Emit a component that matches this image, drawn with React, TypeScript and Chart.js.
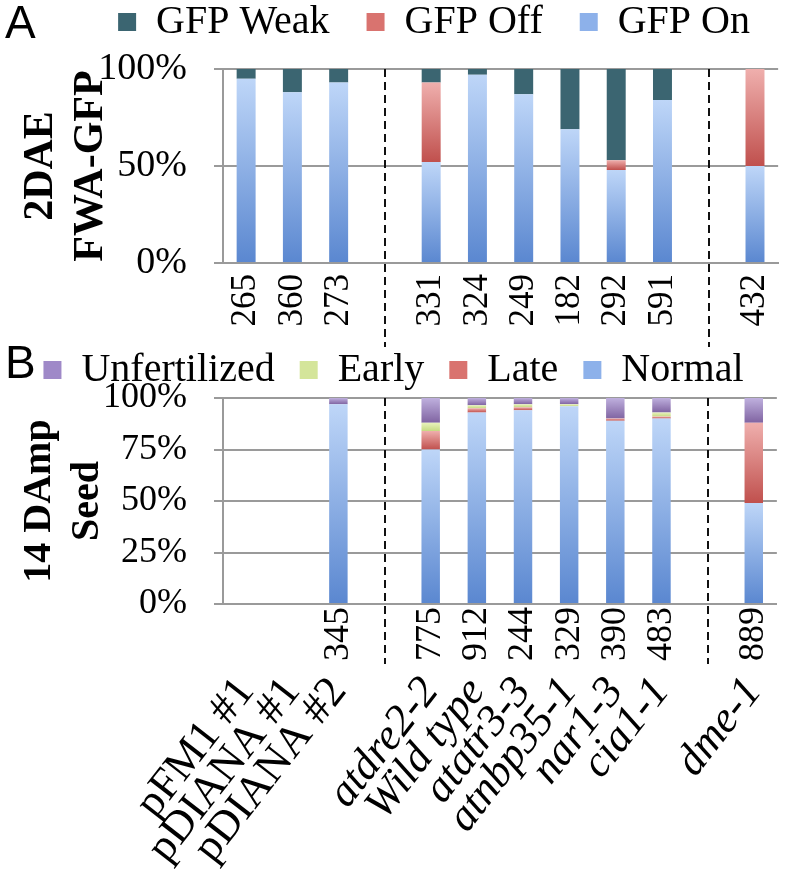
import React, { useEffect, useRef } from 'react';
import { Chart, registerables } from 'chart.js';

Chart.register(...registerables);

const SERIF = "'Liberation Serif', 'Times New Roman', serif";
const GRID = '#9a9a9a';

// ---- Panel A : 2DAE FWA-GFP ----
const COUNTS_A = ['265', '360', '273', '', '331', '324', '249', '182', '292', '591', '', '432'];
const GFP_ON = [95, 88, 93, null, 52, 97, 87, 69, 48, 84, null, 50];
const GFP_OFF = [0, 0, 0, null, 41, 0, 0, 0, 5, 0, null, 50];
const GFP_WEAK = [5, 12, 7, null, 7, 3, 13, 31, 47, 16, null, 0];
const TICKS_A = [0, 50, 100];

// ---- Panel B : 14 DAmp Seed ----
const COUNTS_B = ['', '', '345', '', '775', '912', '244', '329', '390', '483', '', '889'];
const GENOTYPES = ['pFM1 #1', 'pDIANA #1', 'pDIANA #2', '', 'atdre2-2', 'Wild type', 'atatr3-3', 'atnbp35-1', 'nar1-3', 'cia1-1', '', 'dme-1'];
const NORMAL = [null, null, 97, null, 75, 93, 94, 96, 89, 90, null, 49];
const LATE = [null, null, 0, null, 9, 2, 1.5, 0, 1, 1, null, 39];
const EARLY = [null, null, 0, null, 4, 1.5, 1.5, 1, 0, 2, null, 0];
const UNFERT = [null, null, 3, null, 12, 3.5, 3, 3, 10, 7, null, 12];
const TICKS_B = [0, 25, 50, 75, 100];

const C = {
  weak: '#3b6571',
  offTop: '#efafad', offBot: '#c0504d', offFlat: '#d9736f',
  onTop: '#bed6f8', onBot: '#5a87d0', onFlat: '#8db1ea',
  unfTop: '#bfb0de', unfBot: '#8064a2', unfFlat: '#9f89c8',
  earlyTop: '#e9f2bd', earlyBot: '#c6da82', earlyFlat: '#d4e59a',
};

function segmentFill(top: string, bottom: string) {
  return (ctx: any) => {
    if (ctx.type !== 'data') return bottom;
    const chart = ctx.chart;
    const y = chart.scales && chart.scales.y;
    if (!chart.chartArea || !y) return bottom;
    const i = ctx.dataIndex;
    const d = ctx.datasetIndex;
    let start = 0;
    for (let k = 0; k < d; k++) start += Number(chart.data.datasets[k].data[i]) || 0;
    const end = start + (Number(chart.data.datasets[d].data[i]) || 0);
    const p0 = y.getPixelForValue(start);
    const p1 = y.getPixelForValue(end);
    if (!isFinite(p0) || !isFinite(p1) || Math.abs(p0 - p1) < 0.5) return bottom;
    const g = chart.ctx.createLinearGradient(0, p1, 0, p0);
    g.addColorStop(0, top);
    g.addColorStop(1, bottom);
    return g;
  };
}

const flatLabels = (colors: string[]) => (chart: any) => {
  const items = (Chart.defaults.plugins.legend.labels as any).generateLabels(chart);
  return items.map((it: any) => ({
    ...it,
    fillStyle: colors[it.datasetIndex],
    strokeStyle: colors[it.datasetIndex],
    lineWidth: 0,
  }));
};

const legendHeight = (h: number) => ({
  id: 'legendHeight',
  beforeInit(chart: any) {
    const lg = chart.legend;
    if (!lg) return;
    const orig = lg.fit;
    lg.fit = function () {
      orig.call(this);
      this.height = h;
    };
  },
});

const separators = (bottomOf: (c: any) => number) => ({
  id: 'separators',
  afterDraw(chart: any) {
    const xs = chart.scales.x;
    const ctx = chart.ctx;
    const top = chart.chartArea.top;
    const bottom = bottomOf(chart);
    ctx.save();
    ctx.strokeStyle = '#111';
    ctx.lineWidth = 2;
    ctx.setLineDash([8, 5]);
    GENOTYPES.forEach((g, i) => {
      if (g !== '') return;
      const x = Math.round(xs.getPixelForValue(i));
      ctx.beginPath();
      ctx.moveTo(x, top);
      ctx.lineTo(x, bottom);
      ctx.stroke();
    });
    ctx.restore();
  },
});

const yAxis = (ticks: number[], size: number, title: string[], titleSize: number) => ({
  stacked: true,
  min: 0,
  max: 100,
  afterBuildTicks: (s: any) => {
    s.ticks = ticks.map((v) => ({ value: v }));
  },
  grid: { color: GRID, lineWidth: 2, tickLength: 9 },
  border: { display: true, color: GRID, width: 2 },
  ticks: {
    padding: 27,
    color: '#000',
    font: { family: SERIF, size },
    callback: (v: any) => v + '%',
  },
  title: {
    display: true,
    text: title,
    color: '#000',
    font: { family: SERIF, size: titleSize, weight: 'bold', lineHeight: 1.2 },
    padding: { top: 16, bottom: 0 },
  },
  afterFit: (s: any) => {
    s.width = 223;
  },
});

export default function App() {
  const refA = useRef<HTMLCanvasElement>(null);
  const refB = useRef<HTMLCanvasElement>(null);

  useEffect(() => {
    const chartA = new Chart(refA.current as HTMLCanvasElement, {
      type: 'bar',
      data: {
        labels: COUNTS_A,
        datasets: [
          { label: 'GFP On', data: GFP_ON, backgroundColor: segmentFill(C.onTop, C.onBot) as any },
          { label: 'GFP Off', data: GFP_OFF, backgroundColor: segmentFill(C.offTop, C.offBot) as any },
          { label: 'GFP Weak', data: GFP_WEAK, backgroundColor: C.weak },
        ],
      },
      options: {
        responsive: false,
        animation: false,
        devicePixelRatio: 1,
        datasets: { bar: { categoryPercentage: 1, barPercentage: 0.41, borderWidth: 0 } },
        layout: { padding: { top: -35, left: 0, right: 0, bottom: 0 } },
        plugins: {
          legend: {
            position: 'top',
            align: 'end',
            fullSize: true,
            reverse: true,
            labels: {
              font: { family: SERIF, size: 40 },
              color: '#000',
              boxWidth: 18,
              boxHeight: 18,
              padding: 37,
              generateLabels: flatLabels([C.onFlat, C.offFlat, C.weak]),
            },
          },
          tooltip: { enabled: false },
        },
        scales: {
          x: {
            stacked: true,
            grid: { display: false, drawTicks: false },
            border: { display: true, color: GRID, width: 2 },
            ticks: {
              autoSkip: false,
              minRotation: 90,
              maxRotation: 90,
              padding: 11,
              color: '#000',
              font: { family: SERIF, size: 35, lineHeight: 0.6 },
            },
            afterFit: (s: any) => {
              s.height = 84;
            },
          },
          y: yAxis(TICKS_A, 38, ['2DAE', 'FWA-GFP'], 42) as any,
        },
      },
      plugins: [legendHeight(104), separators((c: any) => c.height)],
    });

    const chartB = new Chart(refB.current as HTMLCanvasElement, {
      type: 'bar',
      data: {
        labels: COUNTS_B,
        datasets: [
          { label: 'Normal', data: NORMAL, backgroundColor: segmentFill(C.onTop, C.onBot) as any },
          { label: 'Late', data: LATE, backgroundColor: segmentFill(C.offTop, C.offBot) as any },
          { label: 'Early', data: EARLY, backgroundColor: segmentFill(C.earlyTop, C.earlyBot) as any },
          { label: 'Unfertilized', data: UNFERT, backgroundColor: segmentFill(C.unfTop, C.unfBot) as any },
        ],
      },
      options: {
        responsive: false,
        animation: false,
        devicePixelRatio: 1,
        datasets: { bar: { categoryPercentage: 1, barPercentage: 0.4, borderWidth: 0 } },
        layout: { padding: { top: -22, left: 0, right: 0, bottom: 0 } },
        plugins: {
          legend: {
            position: 'top',
            align: 'center',
            fullSize: true,
            reverse: true,
            labels: {
              font: { family: SERIF, size: 40 },
              color: '#000',
              boxWidth: 18,
              boxHeight: 18,
              padding: 25,
              generateLabels: flatLabels([C.onFlat, C.offFlat, C.earlyFlat, C.unfFlat]),
            },
          },
          tooltip: { enabled: false },
        },
        scales: {
          x: {
            stacked: true,
            weight: 0,
            grid: { display: false, drawTicks: false },
            border: { display: true, color: GRID, width: 2 },
            ticks: {
              autoSkip: false,
              minRotation: 90,
              maxRotation: 90,
              padding: 3,
              color: '#000',
              font: { family: SERIF, size: 36, lineHeight: 0.6 },
            },
            afterFit: (s: any) => {
              s.height = 60;
            },
          },
          x2: {
            type: 'category',
            labels: GENOTYPES,
            position: 'bottom',
            weight: 1,
            offset: true,
            grid: { display: false, drawTicks: false },
            border: { display: false },
            ticks: {
              autoSkip: false,
              minRotation: 52,
              maxRotation: 52,
              padding: 12,
              color: '#000',
              font: (c: any) => ({
                family: SERIF,
                size: 44,
                lineHeight: 0.6,
                style: c.index >= 3 ? 'italic' : 'normal',
              }),
            },
            afterFit: (s: any) => {
              s.height = 210;
            },
          } as any,
          y: yAxis(TICKS_B, 36, ['14 DAmp', 'Seed'], 40) as any,
        },
      },
      plugins: [legendHeight(73), separators((c: any) => c.scales.x.bottom)],
    });

    return () => {
      chartA.destroy();
      chartB.destroy();
    };
  }, []);

  const letter: React.CSSProperties = {
    position: 'absolute',
    left: 5,
    fontFamily: "'Liberation Sans', Arial, sans-serif",
    fontSize: 46,
    lineHeight: '46px',
    color: '#000',
  };

  return (
    <div style={{ position: 'absolute', left: 0, top: 0, width: 787, height: 874, background: '#fff', overflow: 'hidden' }}>
      <canvas ref={refA} width={787} height={347} style={{ position: 'absolute', left: 0, top: 0, width: 787, height: 347 }} />
      <canvas ref={refB} width={787} height={527} style={{ position: 'absolute', left: 0, top: 347, width: 787, height: 527 }} />
      <div style={{ ...letter, top: -1 }}>A</div>
      <div style={{ ...letter, top: 339 }}>B</div>
    </div>
  );
}
